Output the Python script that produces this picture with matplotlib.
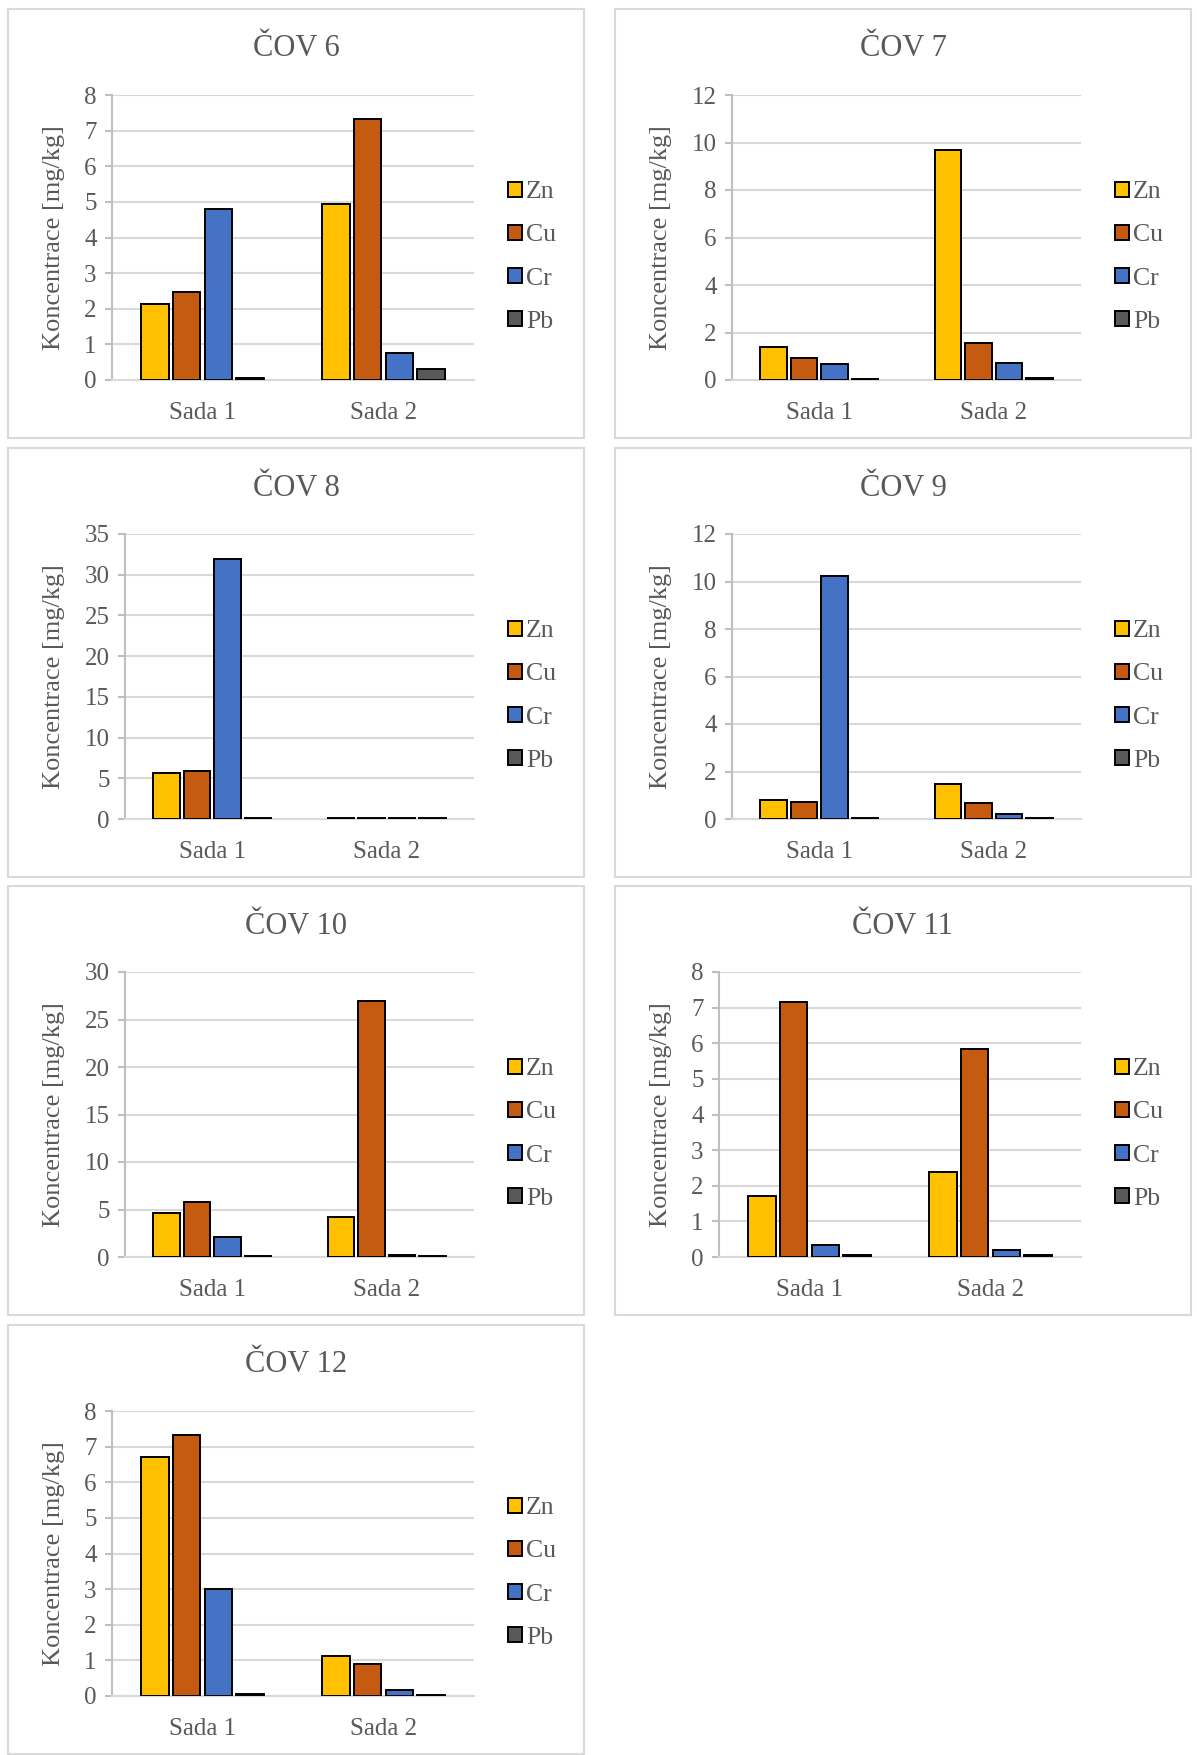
import matplotlib.pyplot as plt
import numpy as np
from matplotlib.patches import Rectangle

plt.rcParams['font.family'] = ['Liberation Serif', 'DejaVu Serif']

# plants and sets
titles = ['ČOV 6', 'ČOV 7', 'ČOV 8', 'ČOV 9', 'ČOV 10', 'ČOV 11', 'ČOV 12']
sady = ['Sada 1', 'Sada 2']
metals = ['Zn', 'Cu', 'Cr', 'Pb']
colors = ['#FFC000', '#C55A11', '#4472C4', '#595959']

# concentrations [mg/kg], one value per plant (ČOV 6 .. ČOV 12)
zn_sada1 = [2.12, 1.38, 5.70, 0.82, 4.60, 1.72, 6.70]
zn_sada2 = [4.93, 9.68, 0.15, 1.48, 4.25, 2.38, 1.13]
cu_sada1 = [2.47, 0.93, 5.90, 0.73, 5.75, 7.16, 7.33]
cu_sada2 = [7.33, 1.55, 0.15, 0.67, 26.9, 5.83, 0.90]
cr_sada1 = [4.80, 0.67, 31.9, 10.25, 2.15, 0.35, 3.00]
cr_sada2 = [0.76, 0.72, 0.15, 0.20, 0.20, 0.20, 0.17]
pb_sada1 = [0.07, 0.05, 0.15, 0.04, 0.10, 0.05, 0.06]
pb_sada2 = [0.30, 0.10, 0.15, 0.04, 0.10, 0.05, 0.03]

y_max = [8, 12, 35, 12, 30, 8, 8]
y_step = [1, 2, 5, 2, 5, 1, 1]

W, H = 1197, 1755
fig = plt.figure(figsize=(W / 100, H / 100), dpi=100)

TXT = '#595959'
GRID = '#D9D9D9'
AXIS = '#BFBFBF'

col_x = [8, 615]
row_y = [9, 448, 886, 1325]
pw, ph = 576, 429

series = [(zn_sada1, zn_sada2), (cu_sada1, cu_sada2),
          (cr_sada1, cr_sada2), (pb_sada1, pb_sada2)]

for k, title in enumerate(titles):
    px0 = col_x[k % 2]
    py0 = row_y[k // 2]

    # panel frame
    fig.patches.append(Rectangle((px0 / W, 1 - (py0 + ph) / H), pw / W, ph / H,
                                 transform=fig.transFigure, fill=False,
                                 edgecolor=GRID, linewidth=1.5))

    lft = 117 if y_max[k] >= 10 else 104
    ax_l = px0 + lft
    ax_r = px0 + 466
    ax_t = py0 + 86
    ax_b = py0 + 371
    ax = fig.add_axes([ax_l / W, 1 - ax_b / H, (ax_r - ax_l) / W, (ax_b - ax_t) / H])

    x = np.arange(len(sady))
    for i, (m, c) in enumerate(zip(metals, colors)):
        vals = [series[i][0][k], series[i][1][k]]
        ax.bar(x + (i - 1.5) * 0.175, vals, width=0.15, color=c,
               edgecolor='black', linewidth=1.4, label=m, zorder=3)

    ax.set_xlim(-0.5, 1.5)
    ax.set_ylim(0, y_max[k])
    ax.set_yticks(np.arange(0, y_max[k] + 0.1, y_step[k]))
    ax.set_xticks(x)
    ax.set_xticklabels(sady)
    ax.yaxis.grid(True, color=GRID, linewidth=1.5)
    ax.set_axisbelow(True)
    for s in ['top', 'right']:
        ax.spines[s].set_visible(False)
    ax.spines['left'].set_color(AXIS)
    ax.spines['left'].set_linewidth(1.5)
    ax.spines['bottom'].set_color(GRID)
    ax.spines['bottom'].set_linewidth(1.5)
    ax.tick_params(axis='y', length=5, width=1.5, color=AXIS, labelcolor=TXT,
                   labelsize=18, pad=6)
    ax.tick_params(axis='x', length=0, labelcolor=TXT, labelsize=18, pad=16)

    fig.text((px0 + pw / 2) / W, 1 - (py0 + 40) / H, title, ha='center', va='center',
             fontsize=22, color=TXT)
    fig.text((px0 + 46) / W, 1 - ((ax_t + ax_b) / 2) / H, 'Koncentrace [mg/kg]',
             rotation=90, ha='center', va='center', fontsize=19, color=TXT)

    ax.legend(loc='center left', bbox_to_anchor=((px0 + 500) / W, 1 - (py0 + 248) / H),
              bbox_transform=fig.transFigure, frameon=False, fontsize=18.5,
              labelcolor=TXT, handlelength=0.55, handleheight=0.55,
              handletextpad=0.15, labelspacing=0.82, borderpad=0, borderaxespad=0)

fig.savefig('out.png', dpi=100, facecolor='white')
